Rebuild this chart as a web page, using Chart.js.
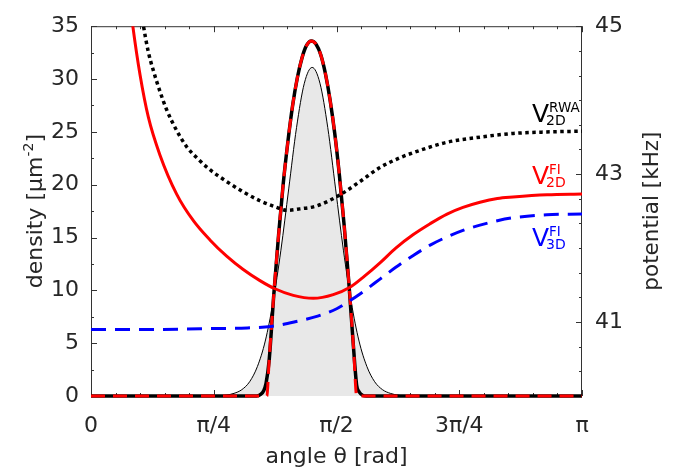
<!DOCTYPE html>
<html>
<head>
<meta charset="utf-8">
<script src="https://cdn.jsdelivr.net/npm/chart.js@4.4.1/dist/chart.umd.min.js"></script>
<style>
  html, body { margin: 0; padding: 0; background: #fff; }
</style>
</head>
<body>
<canvas id="chart" width="673" height="470"></canvas>
<script>
const PI = Math.PI;

// density profiles, left axis [um^-2], angle in rad
const thetaThin = [0, 0.815, 0.865, 0.915, 0.965, 1.015, 1.065, 1.115, 1.165, 1.215, 1.265, 1.315, 1.365, 1.415,
  1.465, 1.515, 1.565, 1.615, 1.665, 1.715, 1.765, 1.815, 1.865, 1.915, 1.965, 2.015, PI];
const densThin = [0, 0, 0.08, 0.25, 0.6, 1.35, 2.8, 5.2, 8.9, 13.8, 19.6, 25.4, 29.6, 31.1,
  29.6, 25.4, 19.6, 13.8, 8.9, 5.2, 2.8, 1.35, 0.6, 0.25, 0.08, 0, 0];

const thetaThick = [0, 1.06, 1.085, 1.105, 1.12, 1.14, 1.17, 1.20, 1.23, 1.26, 1.29, 1.32, 1.35, 1.38, 1.41,
  1.44, 1.47, 1.50, 1.53, 1.56, 1.59, 1.62, 1.65, 1.68, 1.70, 1.715, 1.74, 1.76, PI];
const densThick = [0, 0, 0.15, 0.5, 1.2, 3.4, 9.7, 15.2, 20.1, 24.1, 27.5, 30.1, 32.0, 33.2, 33.6,
  33.3, 32.3, 30.5, 28.0, 24.8, 20.8, 16.1, 10.7, 4.5, 1.0, 0.4, 0.05, 0, 0];

const thetaTF = [0, 1.125, 1.14, 1.17, 1.20, 1.23, 1.26, 1.29, 1.32, 1.35, 1.38, 1.41,
  1.44, 1.47, 1.50, 1.53, 1.56, 1.59, 1.62, 1.65, 1.68, 1.70, PI];
const densTF = [0, 0, 3.4, 9.7, 15.2, 20.1, 24.1, 27.5, 30.1, 32.0, 33.2, 33.6,
  33.3, 32.3, 30.5, 28.0, 24.8, 20.8, 16.1, 10.7, 4.5, 0, 0];

// potentials, right axis [kHz]
const thetaRWA = [0.30, 0.335, 0.367, 0.399, 0.441, 0.484, 0.548, 0.612, 0.687, 0.761, 0.868, 0.974, 1.081,
  1.188, 1.252, 1.337, 1.444, 1.593, 1.721, 1.849, 1.975, 2.062, 2.276, 2.489, 2.702, 2.916, PI];
const potRWA = [45.46, 45.01, 44.65, 44.40, 44.12, 43.87, 43.59, 43.37, 43.20, 43.06, 42.90, 42.76, 42.64,
  42.55, 42.51, 42.53, 42.57, 42.72, 42.90, 43.09, 43.22, 43.29, 43.43, 43.50, 43.55, 43.57, 43.58];

const thetaFI2D = [0.22, 0.267, 0.314, 0.367, 0.441, 0.548, 0.655, 0.761, 0.868, 0.974, 1.081, 1.177,
  1.294, 1.422, 1.55, 1.657, 1.75, 1.849, 1.95, 2.06, 2.17, 2.278, 2.38, 2.489, 2.6, 2.70, 2.918, PI];
const potFI2D = [45.85, 45.01, 44.34, 43.77, 43.26, 42.73, 42.37, 42.11, 41.89, 41.71, 41.56, 41.45,
  41.36, 41.32, 41.37, 41.47, 41.62, 41.80, 42.00, 42.18, 42.33, 42.46, 42.55, 42.62, 42.67, 42.69, 42.72, 42.73];

const thetaFI3D = [0, 0.4, 0.7, 1.0, 1.15, 1.3, 1.45, 1.572, 1.65, 1.721, 1.849, 1.95, 2.062, 2.17, 2.276,
  2.38, 2.489, 2.6, 2.702, 2.916, PI];
const potFI3D = [40.90, 40.90, 40.91, 40.92, 40.94, 41.00, 41.08, 41.18, 41.28, 41.38, 41.58, 41.74, 41.90, 42.04, 42.15,
  42.24, 42.31, 42.37, 42.41, 42.45, 42.46];

// axis ticks
const xTickValues = [0, PI / 4, PI / 2, 3 * PI / 4, PI];
const xTickLabels = ['0', 'π/4', 'π/2', '3π/4', 'π'];
const rightTickValues = [41, 43, 45];

const FONT = "'DejaVu Sans', Verdana, sans-serif";
const TEXT = '#262626';

function pts(xs, ys) {
  return xs.map((x, i) => ({ x: x, y: ys[i] }));
}

// rich text helper: parts = [[text, size, dy]]
function richWidth(ctx, parts) {
  let w = 0;
  parts.forEach(p => { ctx.font = p[1] + 'px ' + FONT; w += ctx.measureText(p[0]).width; });
  return w;
}
function drawRich(ctx, parts, x, y) {
  let cx = x;
  parts.forEach(p => {
    ctx.font = p[1] + 'px ' + FONT;
    ctx.fillStyle = TEXT;
    ctx.fillText(p[0], cx, y + (p[2] || 0));
    cx += ctx.measureText(p[0]).width;
  });
}

function drawV(ctx, x, y, sup, sub, color) {
  ctx.fillStyle = color;
  ctx.textAlign = 'left';
  ctx.textBaseline = 'alphabetic';
  ctx.font = '25px ' + FONT;
  ctx.fillText('V', x, y);
  ctx.font = '13.5px ' + FONT;
  ctx.fillText(sup, x + 17, y - 10);
  ctx.font = '14px ' + FONT;
  ctx.fillText(sub, x + 14, y + 3);
}

const frame = {
  id: 'frame',
  beforeDatasetsDraw(chart) {
    const { ctx, chartArea: a, scales } = chart;
    ctx.save();
    ctx.strokeStyle = '#333';
    ctx.lineWidth = 1;
    ctx.strokeRect(a.left + 0.5, a.top + 0.5, a.right - a.left - 1, a.bottom - a.top - 1);
    ctx.beginPath();
    // x ticks top and bottom
    for (let k = 0; k <= 20; k++) {
      const px = Math.round(scales.x.getPixelForValue(k * PI / 20)) + 0.5;
      const len = k % 5 === 0 ? 6 : 3;
      ctx.moveTo(px, a.bottom); ctx.lineTo(px, a.bottom - len);
      ctx.moveTo(px, a.top); ctx.lineTo(px, a.top + len);
    }
    // left ticks
    for (let v = 0; v <= 35; v += 2.5) {
      const py = Math.round(scales.y.getPixelForValue(v)) + 0.5;
      const len = v % 5 === 0 ? 6 : 3;
      ctx.moveTo(a.left, py); ctx.lineTo(a.left + len, py);
    }
    // right ticks
    for (let i = 0; i <= 15; i++) {
      const v = 40 + i / 3;
      const py = Math.round(scales.y2.getPixelForValue(v)) + 0.5;
      const len = (i === 3 || i === 9 || i === 15) ? 6 : 3;
      ctx.moveTo(a.right, py); ctx.lineTo(a.right - len, py);
    }
    ctx.stroke();
    ctx.restore();
  },
  afterDraw(chart) {
    const { ctx, chartArea: a, scales } = chart;
    ctx.save();
    ctx.textBaseline = 'alphabetic';
    ctx.textAlign = 'left';
    const cy = (a.top + a.bottom) / 2;

    // left axis title, rotated
    const leftParts = [['density [µm', 22, 0], ['-2', 14, -9], [']', 22, 0]];
    ctx.save();
    ctx.translate(42, cy);
    ctx.rotate(-Math.PI / 2);
    drawRich(ctx, leftParts, -richWidth(ctx, leftParts) / 2, 0);
    ctx.restore();

    // right axis title, rotated the same way
    const rightParts = [['potential [kHz]', 21.5, 0]];
    ctx.save();
    ctx.translate(658, cy);
    ctx.rotate(-Math.PI / 2);
    drawRich(ctx, rightParts, -richWidth(ctx, rightParts) / 2, 0);
    ctx.restore();

    // bottom title
    const bottomParts = [['angle θ [rad]', 22, 0]];
    drawRich(ctx, bottomParts, (a.left + a.right) / 2 - richWidth(ctx, bottomParts) / 2, 463);

    // curve labels
    const lx = scales.x.getPixelForValue(2.822);
    drawV(ctx, lx, scales.y2.getPixelForValue(43.70), 'RWA', '2D', '#000');
    drawV(ctx, lx, scales.y2.getPixelForValue(42.86), 'FI', '2D', '#ff0000');
    drawV(ctx, lx, scales.y2.getPixelForValue(42.03), 'FI', '3D', '#0000ff');
    ctx.restore();
  }
};

const densClip = { left: 0, right: 0, top: 0, bottom: 5 };

const ctx = document.getElementById('chart').getContext('2d');
const chart = new Chart(ctx, {
  type: 'line',
  data: {
    datasets: [
      {
        label: 'density TF',
        data: pts(thetaTF, densTF),
        yAxisID: 'y',
        borderColor: '#ff0000',
        borderWidth: 3,
        borderDash: [14, 8],
        pointRadius: 0,
        fill: false,
        clip: densClip,
        order: 2,
      },
      {
        label: 'density',
        data: pts(thetaThick, densThick),
        yAxisID: 'y',
        borderColor: '#000',
        borderWidth: 3.5,
        pointRadius: 0,
        fill: false,
        clip: densClip,
        order: 3,
      },
      {
        label: 'density thermal',
        data: pts(thetaThin, densThin),
        yAxisID: 'y',
        borderColor: '#000',
        borderWidth: 1,
        backgroundColor: '#e8e8e8',
        pointRadius: 0,
        fill: 'origin',
        clip: densClip,
        order: 4,
      },
      {
        label: 'V2D RWA',
        data: pts(thetaRWA, potRWA),
        yAxisID: 'y2',
        borderColor: '#000',
        borderWidth: 3.5,
        borderDash: [3.5, 3.5],
        pointRadius: 0,
        fill: false,
        order: 1,
      },
      {
        label: 'V2D FI',
        data: pts(thetaFI2D, potFI2D),
        yAxisID: 'y2',
        borderColor: '#ff0000',
        borderWidth: 3,
        pointRadius: 0,
        fill: false,
        order: 0,
      },
      {
        label: 'V3D FI',
        data: pts(thetaFI3D, potFI3D),
        yAxisID: 'y2',
        borderColor: '#0000ff',
        borderWidth: 3,
        borderDash: [15, 9],
        pointRadius: 0,
        fill: false,
        order: 0,
      },
    ],
  },
  options: {
    responsive: false,
    animation: false,
    devicePixelRatio: 1,
    layout: { padding: { top: 18, left: 0, right: 0, bottom: 0 } },
    plugins: {
      legend: { display: false },
      tooltip: { enabled: false },
      title: { display: false },
    },
    elements: {
      line: { cubicInterpolationMode: 'monotone' },
    },
    scales: {
      x: {
        type: 'linear',
        min: 0,
        max: PI,
        grid: { display: false, drawTicks: false },
        border: { display: false },
        afterBuildTicks: (scale) => { scale.ticks = xTickValues.map(v => ({ value: v })); },
        afterFit: (scale) => { scale.height = 74; },
        ticks: {
          padding: 17,
          color: TEXT,
          font: { family: FONT, size: 22 },
          callback: (value, index) => xTickLabels[index],
          maxRotation: 0,
        },
      },
      y: {
        position: 'left',
        min: 0,
        max: 35,
        grid: { display: false, drawTicks: false },
        border: { display: false },
        afterFit: (scale) => { scale.width = 91; },
        ticks: {
          stepSize: 5,
          padding: 12,
          color: TEXT,
          font: { family: FONT, size: 22 },
        },
      },
      y2: {
        position: 'right',
        min: 40,
        max: 45,
        grid: { display: false, drawTicks: false },
        border: { display: false },
        afterBuildTicks: (scale) => { scale.ticks = rightTickValues.map(v => ({ value: v })); },
        afterFit: (scale) => { scale.width = 91; },
        ticks: {
          padding: 13,
          color: TEXT,
          font: { family: FONT, size: 22 },
        },
      },
    },
  },
  plugins: [frame],
});
</script>
</body>
</html>
